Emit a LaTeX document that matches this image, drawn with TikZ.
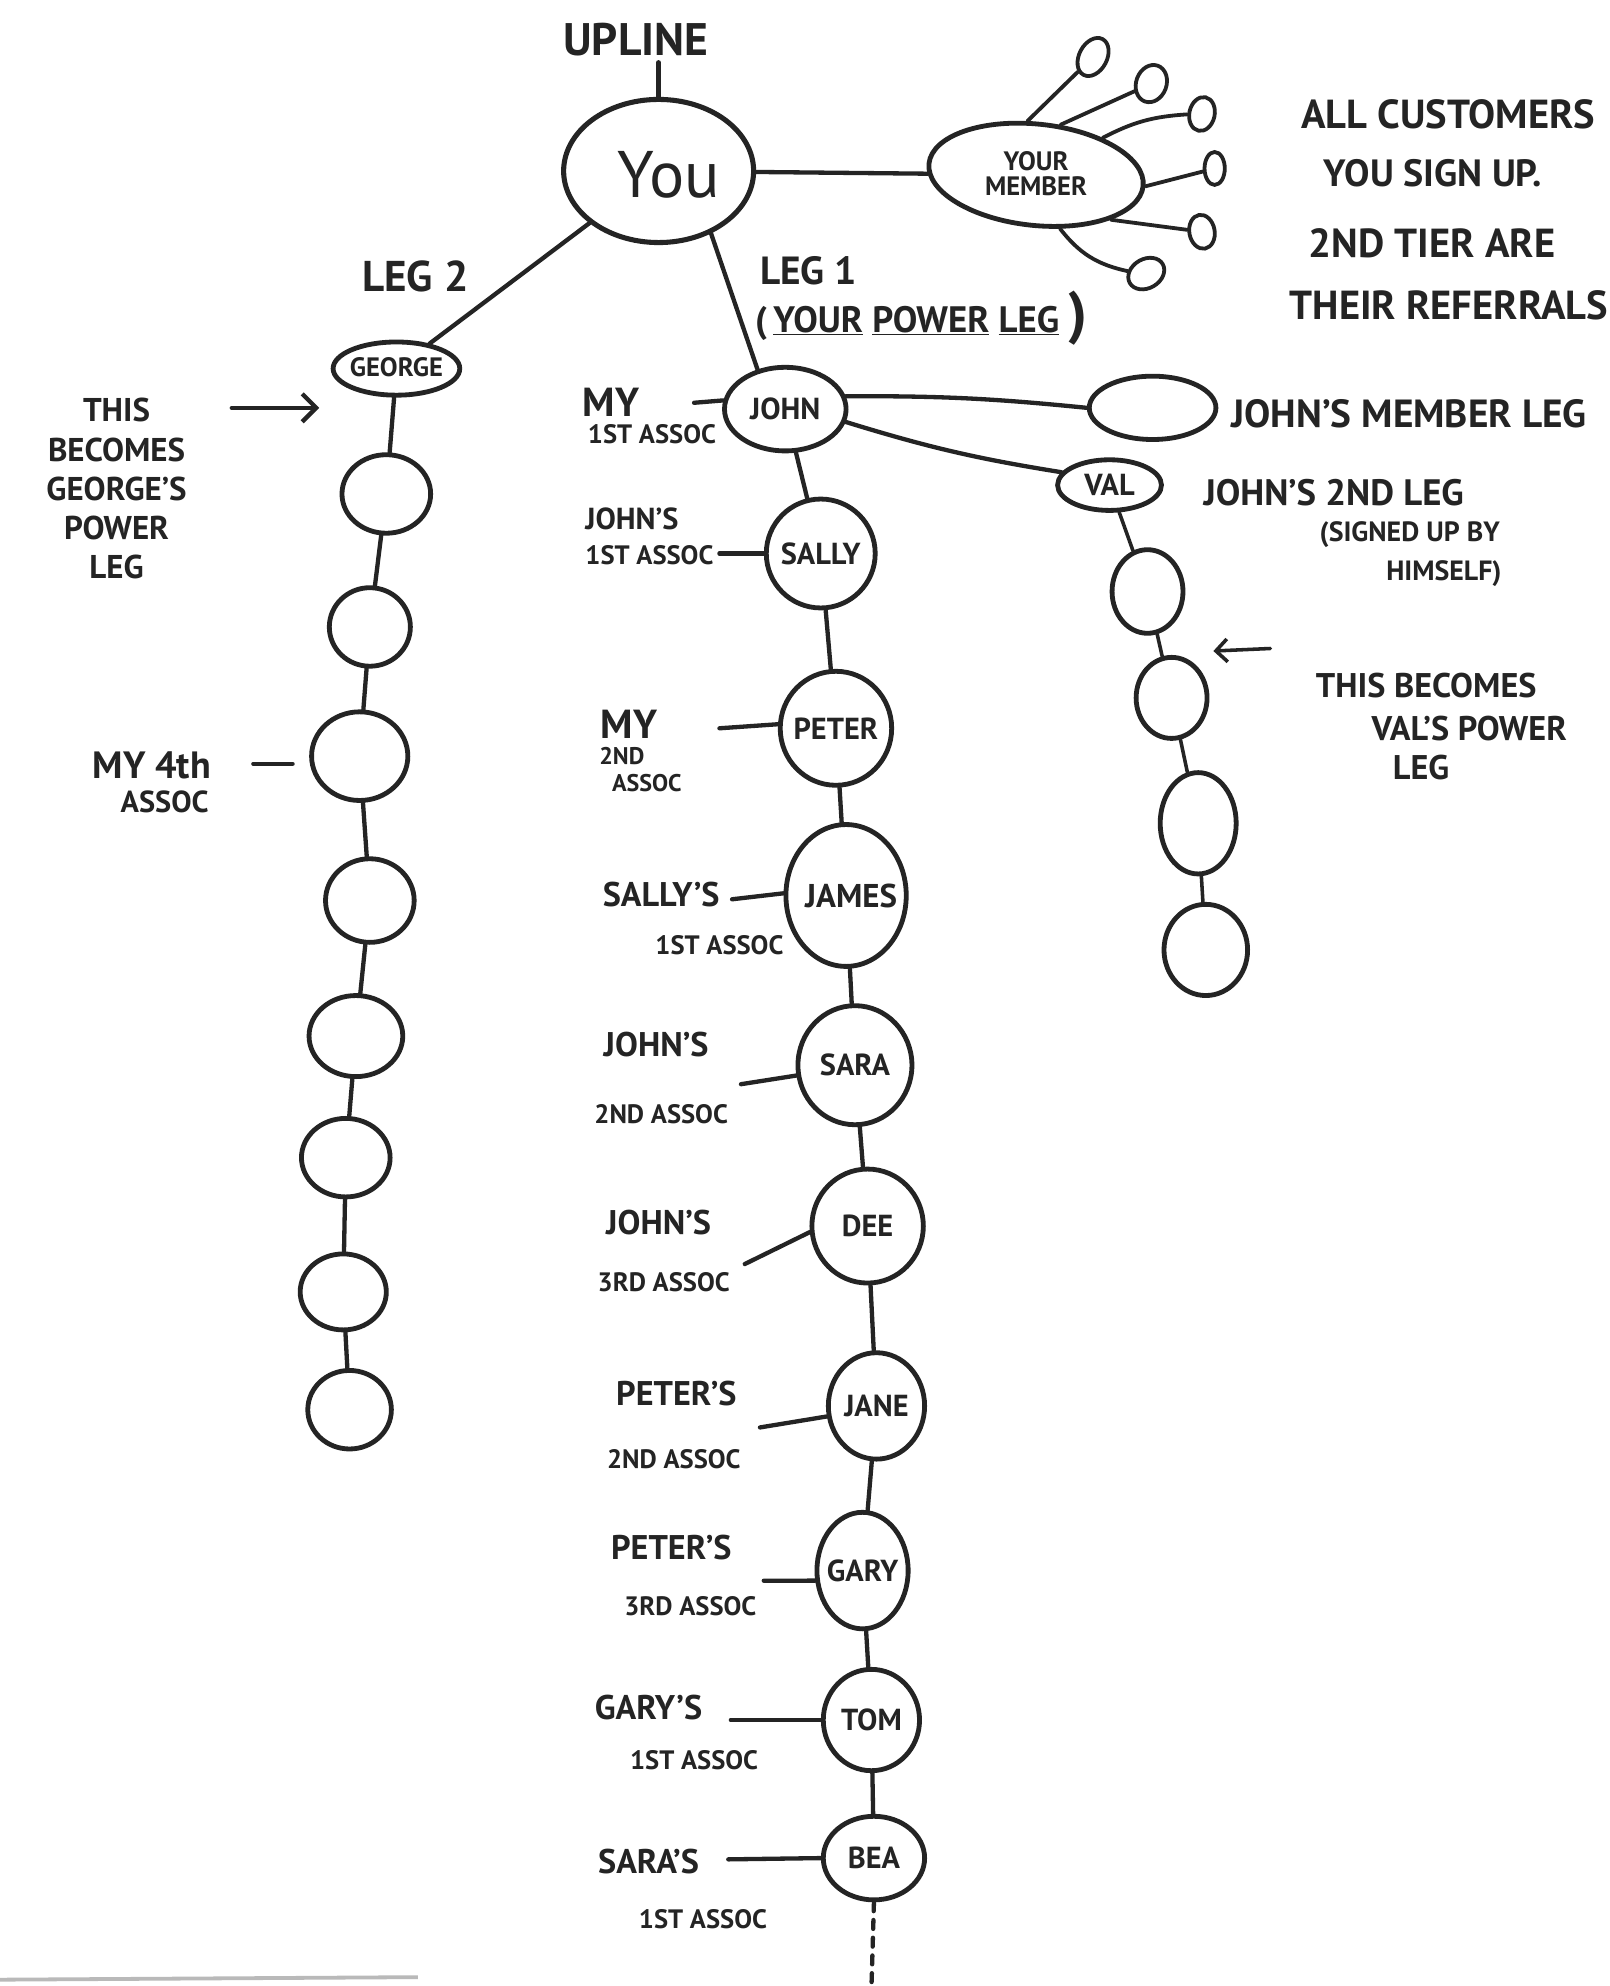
\documentclass[tikz,border=0pt]{standalone}
\usepackage{fontspec}
\setmainfont{PT Sans}
\usetikzlibrary{shapes.geometric,arrows.meta}
\definecolor{ink}{HTML}{242424}
\newcommand{\fz}[1]{\fontsize{#1}{#1}\selectfont\bfseries}
\newcommand{\fzl}[2]{\fontsize{#1}{#2}\selectfont\bfseries}
\newcommand{\Ball}[6]{\node[ball, minimum width=#4pt, minimum height=#5pt] (#1) at (#2,#3) {};
  \node[nm] (#1-t) at (#1) {#6};}
\newcommand{\Blob}[5]{\node[ball, minimum width=#4pt, minimum height=#5pt] (#1) at (#2,#3) {};}
\begin{document}
\begin{tikzpicture}[x=1pt,y=-1pt,
  ball/.style={ellipse, draw=ink, line width=3.8pt, inner sep=0pt},
  conn/.style={draw=ink, line width=3.4pt, line cap=round},
  nm/.style={font=\fz{24}, text=ink, inner sep=0pt},
  lab/.style={font=\fz{21}, text=ink, inner sep=0pt, align=left},
  labA/.style={font=\fz{27}, text=ink, inner sep=0pt, align=left},
  big/.style={font=\fz{29}, text=ink, inner sep=0pt, align=left}]
\clip (0,0) rectangle (1271,1568);
\fill[white] (0,0) rectangle (1271,1568);

% ---------- top ----------
\node[big, font=\fz{36}] (upline) at (502,31) {UPLINE};
\node[ball, minimum width=150pt, minimum height=113pt, line width=4pt] (you) at (520,135) {};
\node[font=\fontsize{52}{52}\selectfont, text=ink, inner sep=0pt] (you-t) at (528,138) {You};
\draw[conn, shorten <=5pt] (upline.south -| you.north) -- (you.north);

\node[ball, minimum width=170pt, minimum height=80pt, rotate=-6] (mem) at (818,138) {};
\node[nm, font=\fzl{21}{20}, align=center] (mem-t) at (818,137) {YOUR\\MEMBER};
\draw[conn] (you) -- (mem);

\node[ball, minimum width=22pt, minimum height=32pt, rotate=-28, line width=3pt] (c1) at (863,45) {};
\node[ball, minimum width=24pt, minimum height=30pt, rotate=-20, line width=3pt] (c2) at (909,66) {};
\node[ball, minimum width=20pt, minimum height=27pt, rotate=-12, line width=3pt] (c3) at (949,90) {};
\node[ball, minimum width=16pt, minimum height=26pt, line width=3pt] (c4) at (959,133) {};
\node[ball, minimum width=20pt, minimum height=27pt, rotate=10, line width=3pt] (c5) at (949,183) {};
\node[ball, minimum width=30pt, minimum height=23pt, rotate=30, line width=3pt] (c6) at (905,216) {};
\draw[conn, line width=3pt] (mem.105) -- (c1);
\draw[conn, line width=3pt] (mem.70) -- (c2);
\draw[conn, line width=3pt] (mem.35) to[bend left=12] (c3);
\draw[conn, line width=3pt] (mem.east) -- (c4);
\draw[conn, line width=3pt] (mem.-25) -- (c5);
\draw[conn, line width=3pt] (mem.-60) to[bend right=20] (c6);

\node[big, font=\fz{32}, anchor=west] (t1) at (1027,90) {ALL CUSTOMERS};
\node[big, font=\fz{30}, anchor=west] (t2) at (1045,137) {YOU SIGN UP.};
\node[big, font=\fz{32}, anchor=west] (t3) at (1033,192) {2ND TIER ARE};
\node[big, font=\fz{32}, anchor=west] (t4) at (1018,241) {THEIR REFERRALS};

% ---------- leg labels ----------
\node[big, font=\fz{34}] (leg2) at (328,218) {LEG 2};
\node[big, font=\fz{31}, anchor=west] (leg1) at (600,214) {LEG 1};
\node[big, font=\fz{29}, anchor=west] (plg) at (596,251)
  {(\,\underline{YOUR} \underline{POWER} \underline{LEG}{\fontsize{46}{46}\selectfont\,)}};

% ---------- leg 2 (George) ----------
\node[ball, minimum width=100pt, minimum height=42pt] (george) at (313,291) {};
\node[nm, font=\fz{21}] (george-t) at (313,290) {GEORGE};
\draw[conn] (you) -- (george);

\node[lab, font=\fzl{26}{31}, align=center] (gtext) at (92,386)
  {THIS\\BECOMES\\GEORGE'S\\POWER\\LEG};
\coordinate (ga1) at (183,322);
\coordinate (ga2) at (252,322);
\draw[conn, -{Straight Barb[length=11pt,width=22pt,line width=3.4pt]}] (ga1) -- (ga2);

\Blob{g1}{305}{390}{70}{62}
\Blob{g2}{292}{495}{64}{62}
\Blob{g3}{284}{597}{76}{70}
\Blob{g4}{292}{711}{70}{66}
\Blob{g5}{281}{818}{74}{64}
\Blob{g6}{273}{914}{70}{62}
\Blob{g7}{271}{1020}{68}{60}
\Blob{g8}{276}{1113}{66}{62}
\draw[conn] (george) -- (g1);
\draw[conn] (g1) -- (g2);
\draw[conn] (g2) -- (g3);
\draw[conn] (g3) -- (g4);
\draw[conn] (g4) -- (g5);
\draw[conn] (g5) -- (g6);
\draw[conn] (g6) -- (g7);
\draw[conn] (g7) -- (g8);

\node[lab, font=\fz{30}] (l-g3a) at (120,604) {MY 4th};
\node[lab, font=\fz{24}] (l-g3b) at (130,633) {ASSOC};
\coordinate (m4a) at (200,603);
\coordinate (m4b) at (231,603);
\draw[conn] (m4a) -- (m4b);

% ---------- leg 1 (John) ----------
\Ball{john}{620}{323}{96}{66}{JOHN}
\draw[conn] (you.-50) -- (john.125);

\Blob{jml}{910}{322}{100}{50}
\draw[conn] (john.12) to[bend left=3] (jml.west);
\node[big, font=\fz{31}, anchor=west] (jml-t) at (972,327) {JOHN'S MEMBER LEG};

\Ball{val}{876}{383}{82}{40}{VAL}
\draw[conn] (john.-12) to[bend right=4] (val.165);
\node[big, font=\fz{29}, anchor=west] (val-t1) at (950,389) {JOHN'S 2ND LEG};
\node[big, font=\fz{22}] (val-t2) at (1113,422) {(SIGNED UP BY};
\node[big, font=\fz{22}] (val-t3) at (1140,453) {HIMSELF)};

\Blob{v1}{906}{467}{56}{66}
\Blob{v2}{925}{551}{56}{64}
\Blob{v3}{946}{650}{60}{80}
\Blob{v4}{952}{750}{66}{72}
\draw[conn, line width=2.8pt] (val) -- (v1);
\draw[conn, line width=2.8pt] (v1) -- (v2);
\draw[conn, line width=2.8pt] (v2) -- (v3);
\draw[conn, line width=2.8pt] (v3) -- (v4);
\coordinate (va1) at (1003,512);
\coordinate (va2) at (958,514);
\draw[conn, line width=2.8pt, -{Straight Barb[length=9pt,width=18pt,line width=2.8pt]}] (va1) -- (va2);
\node[big, font=\fz{27}] (vp-t1) at (1126,541) {THIS BECOMES};
\node[big, font=\fz{27}] (vp-t2) at (1160,575) {VAL'S POWER};
\node[big, font=\fz{27}] (vp-t3) at (1122,606) {LEG};

\Ball{sally}{648}{437}{86}{86}{SALLY}
\Ball{peter}{660}{575}{88}{90}{PETER}
\node[ball, minimum width=95pt, minimum height=112pt] (james) at (668,707) {};
\node[nm, font=\fz{26}] (james-t) at (672,707) {JAMES};
\Ball{sara}{675}{841}{90}{94}{SARA}
\Ball{dee}{685}{968}{88}{90}{DEE}
\Ball{jane}{692}{1110}{76}{84}{JANE}
\Ball{gary}{681}{1240}{72}{92}{GARY}
\Ball{tom}{688}{1358}{76}{80}{TOM}
\Ball{bea}{690}{1467}{80}{66}{BEA}
\draw[conn] (john) -- (sally);
\draw[conn] (sally) -- (peter);
\draw[conn] (peter) -- (james);
\draw[conn] (james) -- (sara);
\draw[conn] (sara) -- (dee);
\draw[conn] (dee) -- (jane);
\draw[conn] (jane) -- (gary);
\draw[conn] (gary) -- (tom);
\draw[conn] (tom) -- (bea);
\coordinate (beaend) at (688,1570);
\draw[conn, dash pattern=on 7pt off 7pt] (bea.south) -- (beaend);

% ---------- labels of leg 1 ----------
\node[labA, font=\fz{32}, anchor=west] (l-john1) at (460,318) {MY};
\node[lab, anchor=west] (l-john2) at (464,343) {1ST ASSOC};
\coordinate (d-john) at (548,318);
\draw[conn] (d-john) -- (john.172);

\node[labA, font=\fz{24}, anchor=west] (l-sally1) at (462,410) {JOHN'S};
\node[lab, anchor=west] (l-sally2) at (462,438) {1ST ASSOC};
\coordinate (d-sally) at (568,437);
\draw[conn] (d-sally) -- (sally.west);

\node[labA, font=\fz{32}, anchor=west] (l-peter1) at (474,572) {MY};
\node[lab, font=\fz{19}, anchor=west] (l-peter2) at (473,597) {2ND};
\node[lab, font=\fz{19}, anchor=west] (l-peter3) at (483,618) {ASSOC};
\coordinate (d-peter) at (568,575);
\draw[conn] (d-peter) -- (peter.176);

\node[labA] (l-james1) at (522,706) {SALLY'S};
\node[lab] (l-james2) at (568,746) {1ST ASSOC};
\coordinate (d-james) at (578,710);
\draw[conn] (d-james) -- (james.178);

\node[labA] (l-sara1) at (518,825) {JOHN'S};
\node[lab] (l-sara2) at (522,880) {2ND ASSOC};
\coordinate (d-sara) at (585,856);
\draw[conn] (d-sara) -- (sara.190);

\node[labA] (l-dee1) at (520,965) {JOHN'S};
\node[lab] (l-dee2) at (524,1012) {3RD ASSOC};
\coordinate (d-dee) at (588,998);
\draw[conn] (d-dee) -- (dee.186);

\node[labA] (l-jane1) at (534,1100) {PETER'S};
\node[lab] (l-jane2) at (532,1152) {2ND ASSOC};
\coordinate (d-jane) at (600,1127);
\draw[conn] (d-jane) -- (jane.192);

\node[labA] (l-gary1) at (530,1222) {PETER'S};
\node[lab] (l-gary2) at (545,1268) {3RD ASSOC};
\coordinate (d-gary) at (603,1248);
\draw[conn] (d-gary) -- (gary.192);

\node[labA] (l-tom1) at (512,1348) {GARY'S};
\node[lab] (l-tom2) at (548,1390) {1ST ASSOC};
\coordinate (d-tom) at (577,1358);
\draw[conn] (d-tom) -- (tom.west);

\node[labA] (l-bea1) at (512,1470) {SARA'S};
\node[lab] (l-bea2) at (555,1515) {1ST ASSOC};
\coordinate (d-bea) at (575,1468);
\draw[conn] (d-bea) -- (bea.west);

% paper edge
\draw[gray!55, line width=3pt] (0,1563) -- (330,1561);
\end{tikzpicture}
\end{document}
